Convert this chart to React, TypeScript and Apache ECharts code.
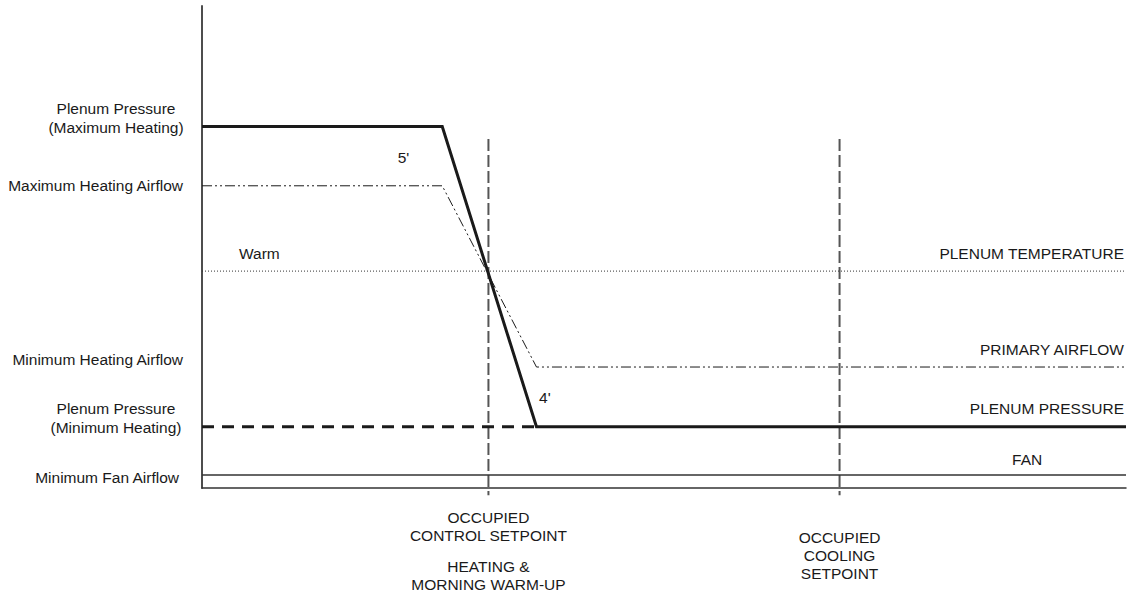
import React, { useEffect, useRef } from "react";
import * as echarts from "echarts";

// ---- data (abstract diagram units) ----
const xBreaks = [0, 26, 36.2, 100]; // start, heating ramp start, ramp end, end
const plenumPressure = [75, 75, 12.7, 12.7];
const primaryAirflow = [62.7, 62.7, 25.1, 25.1];
const pressureMinX = [0, 36.2];
const pressureMin = [12.7, 12.7];
const plenumTemperature = 45;
const fanAirflow = 2.7;
const setpointX = [31, 69]; // occupied control setpoint, occupied cooling setpoint
const setpointSpan = [72.4, -1.5];

const leftLabels = [
  { text: "Plenum Pressure\n(Maximum Heating)", y: 75, two: true },
  { text: "Maximum Heating Airflow", y: 62.7, two: false },
  { text: "Minimum Heating Airflow", y: 26.7, two: false },
  { text: "Plenum Pressure\n(Minimum Heating)", y: 12.7, two: true },
  { text: "Minimum Fan Airflow", y: 2.1, two: false },
];
const rightLabels = [
  { text: "PLENUM TEMPERATURE", y: 45 },
  { text: "PRIMARY AIRFLOW", y: 25.1 },
  { text: "PLENUM PRESSURE", y: 12.7 },
];
const fanLabel = { text: "FAN", x: 89.3, y: 2.7 };
const warmLabel = { text: "Warm", x: 4, y: 45 };
const slopeLabels = [
  { text: "5'", x: 21.8, y: 68.5 },
  { text: "4'", x: 37.1, y: 18.8 },
];
const bottomLabels = [
  { text: "OCCUPIED\nCONTROL SETPOINT", x: 31, row: 0 },
  { text: "HEATING &\nMORNING WARM-UP", x: 31, row: 1 },
  { text: "OCCUPIED\nCOOLING\nSETPOINT", x: 69, row: 2 },
];

const FONT = '15.5px "Liberation Sans", Arial, Helvetica, sans-serif';
const INK = "#1a1a1a";

export default function App() {
  const ref = useRef<HTMLDivElement>(null);
  useEffect(() => {
    document.body.style.margin = "0";
    const chart = echarts.init(ref.current!, null, { renderer: "svg" });
    const line = (data: number[][], style: any, extra: any = {}) => ({
      type: "line",
      data,
      symbol: "none",
      silent: true,
      lineStyle: style,
      ...extra,
    });
    chart.setOption({
      animation: false,
      grid: { left: 202, right: 9, top: 6, bottom: 117 },
      xAxis: {
        type: "value",
        min: 0,
        max: 100,
        axisLine: { show: true, onZero: false, lineStyle: { color: "#333", width: 1.5 } },
        axisTick: { show: false },
        axisLabel: { show: false },
        splitLine: { show: false },
      },
      yAxis: {
        type: "value",
        min: 0,
        max: 100,
        axisLine: { show: true, lineStyle: { color: "#4d4d4d", width: 2 } },
        axisTick: { show: false },
        axisLabel: { show: false },
        splitLine: { show: false },
      },
      series: [
        ...setpointX.map((x) =>
          line(
            setpointSpan.map((y) => [x, y]),
            { color: "#555", width: 2, type: [12, 4] },
            { clip: false, z: 1 }
          )
        ),
        line([[0, plenumTemperature], [100, plenumTemperature]], { color: "#333", width: 1, type: [1, 2] }),
        line([[0, fanAirflow], [100, fanAirflow]], { color: "#333", width: 1.5 }),
        line(
          xBreaks.map((x, i) => [x, primaryAirflow[i]]),
          { color: INK, width: 1, type: [10, 3, 2, 3, 2, 3] }
        ),
        line(
          pressureMinX.map((x, i) => [x, pressureMin[i]]),
          { color: INK, width: 3, type: [12, 8] }
        ),
        line(xBreaks.map((x, i) => [x, plenumPressure[i]]), { color: INK, width: 3, join: "miter" }),
      ],
    });

    const px = (x: number, y: number) => chart.convertToPixel({ xAxisIndex: 0, yAxisIndex: 0 }, [x, y]) as number[];
    const txt = (text: string, x: number, y: number, align: string, valign: string, lh = 18) => ({
      type: "text",
      x,
      y,
      silent: true,
      style: {
        text,
        font: FONT,
        fill: INK,
        textAlign: align,
        align,
        textVerticalAlign: valign,
        verticalAlign: valign,
        lineHeight: lh,
      },
    });
    const graphics: any[] = [];
    leftLabels.forEach((l, i) => {
      const [, y] = px(0, l.y);
      if (l.two) graphics.push(txt(l.text, 116, y + 10, "center", "bottom", 19));
      else graphics.push(txt(l.text, i === 4 ? 179 : 183, y, "right", "middle"));
    });
    rightLabels.forEach((l) => {
      const [x, y] = px(100, l.y);
      graphics.push(txt(l.text, x - 2, y - 18, "right", "middle"));
    });
    {
      const [x, y] = px(fanLabel.x, fanLabel.y);
      graphics.push(txt(fanLabel.text, x, y - 15, "center", "middle"));
    }
    {
      const [x, y] = px(warmLabel.x, warmLabel.y);
      graphics.push(txt(warmLabel.text, x, y - 18, "left", "middle"));
    }
    slopeLabels.forEach((l) => {
      const [x, y] = px(l.x, l.y);
      graphics.push(txt(l.text, x, y, "center", "middle"));
    });
    const rowTop = [508, 557, 528];
    bottomLabels.forEach((l) => {
      const [x] = px(l.x, 0);
      graphics.push(txt(l.text, x, rowTop[l.row], "center", "top", 18));
    });
    chart.setOption({ graphic: graphics });

    return () => chart.dispose();
  }, []);
  return <div ref={ref} style={{ width: 1135, height: 605 }} />;
}
